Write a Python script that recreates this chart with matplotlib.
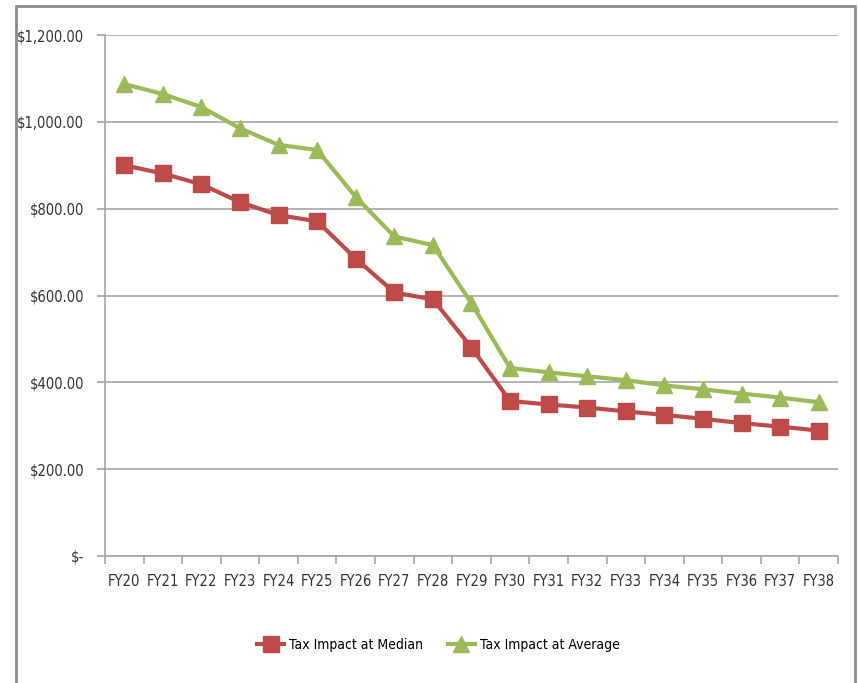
import matplotlib
matplotlib.use("Agg")
import matplotlib.pyplot as plt
import matplotlib.patches as mpatches
import matplotlib.ticker as mticker
import numpy as np

# data
years = ["FY20", "FY21", "FY22", "FY23", "FY24", "FY25", "FY26", "FY27", "FY28", "FY29",
         "FY30", "FY31", "FY32", "FY33", "FY34", "FY35", "FY36", "FY37", "FY38"]
median = [900, 881, 856, 815, 785, 771, 685, 607, 591, 480,
          357, 349, 342, 333, 325, 316, 306, 298, 289]
average = [1087, 1064, 1034, 985, 947, 935, 827, 736, 716, 582,
           433, 423, 414, 405, 393, 384, 374, 365, 354]

RED = "#BE4B48"
GREEN = "#9BBB59"
GRID = "#A6A6A6"

plt.rcParams["font.family"] = ["DejaVu Sans"]
plt.rcParams["font.stretch"] = "condensed"

fig = plt.figure(figsize=(8.58, 6.83), dpi=100, facecolor="white")
ax = fig.add_axes([105 / 858, 1 - 556 / 683, 733 / 858, 521 / 683])

x = np.arange(len(years))
ax.plot(x, median, color=RED, lw=3, marker="s", ms=11, label="Tax Impact at Median")
ax.plot(x, average, color=GREEN, lw=3, marker="^", ms=11, label="Tax Impact at Average")

ax.set_xlim(-0.5, len(years) - 0.5)
ax.set_ylim(0, 1200)
ax.set_yticks(np.arange(0, 1201, 200))
ax.yaxis.set_major_formatter(mticker.FuncFormatter(
    lambda v, _: "$-" if v == 0 else f"${v:,.2f}"))
ax.set_xticks(x)
ax.set_xticklabels(years)
ax.set_xticks(np.arange(-0.5, len(years), 1), minor=True)

ax.grid(axis="y", color=GRID, lw=1.2)
ax.set_axisbelow(True)
for s in ["top", "right"]:
    ax.spines[s].set_visible(False)
for s in ["left", "bottom"]:
    ax.spines[s].set_color(GRID)
    ax.spines[s].set_linewidth(1.2)

ax.tick_params(axis="x", which="major", length=0, pad=13, labelsize=10.5, labelcolor="#333")
ax.tick_params(axis="x", which="minor", length=6, color=GRID, width=1.2)
ax.tick_params(axis="y", length=6, color=GRID, width=1.2, labelsize=10.5, labelcolor="#333", pad=9)

fig.legend(*ax.get_legend_handles_labels(), loc="center",
           bbox_to_anchor=(438 / 858, 1 - 645 / 683), ncol=2, frameon=False,
           fontsize=10, handlelength=2.0, columnspacing=1.8, handletextpad=0.3)

# chart area border
fig.patches.append(mpatches.Rectangle((16 / 858, -0.01), (855 - 16) / 858, 1 - 6 / 683 + 0.01,
                                      transform=fig.transFigure, fill=False,
                                      edgecolor="#8C8C8C", lw=2))

fig.savefig("out.png", dpi=100, facecolor="white")
